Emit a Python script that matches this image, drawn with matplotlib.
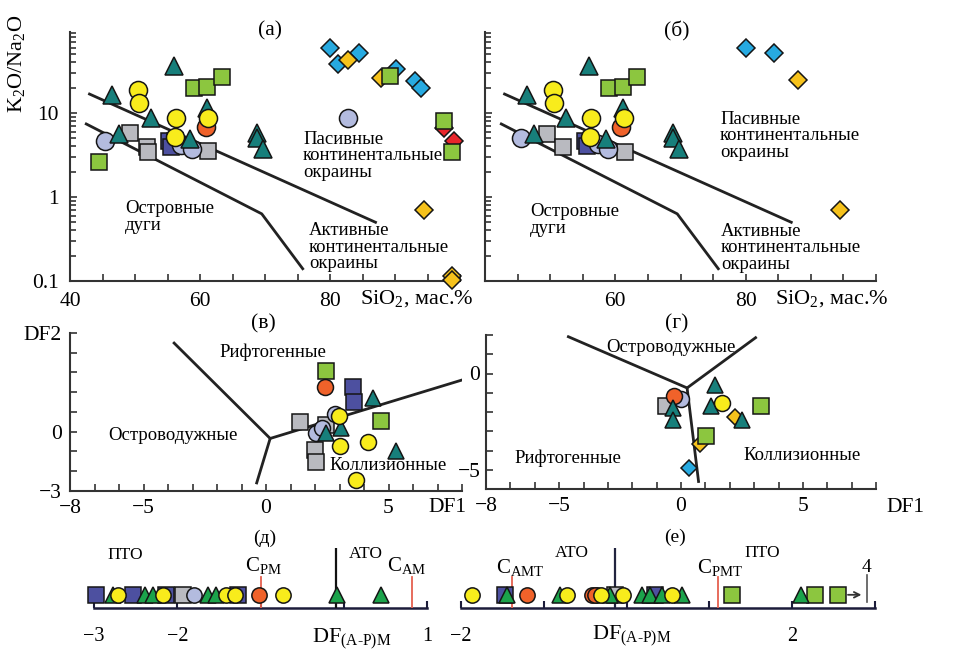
import numpy as np
import matplotlib
matplotlib.use('Agg')
import matplotlib.pyplot as plt
from matplotlib.ticker import FixedLocator, NullFormatter, LogLocator

plt.rcParams['font.family'] = ['Liberation Serif', 'DejaVu Serif']
plt.rcParams['mathtext.fontset'] = 'custom'
plt.rcParams['mathtext.rm'] = 'Liberation Serif'
plt.rcParams['mathtext.it'] = 'Liberation Serif:italic'
plt.rcParams['mathtext.bf'] = 'Liberation Serif:bold'

W, H = 956, 672

# ---------------- данные ----------------
# (а) SiO2 - K2O/Na2O
a_tri_x = [56.0, 46.5, 52.5, 61.1, 47.5, 58.5, 68.8, 68.8, 69.7]
a_tri_y = [36, 16.2, 8.7, 11.6, 5.6, 4.9, 5.8, 5.1, 3.7]
a_yel_x = [50.5, 50.6, 56.3, 61.3, 56.1]
a_yel_y = [18.6, 13.3, 8.8, 8.8, 5.2]
a_org_x = [60.9]
a_org_y = [6.8]
a_lav_x = [45.4, 57.0, 58.8, 82.8]
a_lav_y = [4.7, 4.2, 3.7, 8.8]
a_gry_x = [49.2, 51.8, 52.0, 61.3]
a_gry_y = [5.7, 3.9, 3.4, 3.5]
a_blu_x = [55.2, 56.2, 55.6]
a_blu_y = [4.7, 4.6, 3.9]
a_grn_x = [44.4, 59.0, 61.1, 63.4, 89.2, 97.5, 98.8]
a_grn_y = [2.6, 19.7, 20.4, 26.8, 27.6, 8.0, 3.4]
a_cyn_x = [80.0, 81.2, 84.4, 90.1, 93.0, 94.0]
a_cyn_y = [60, 38.6, 52, 33, 24, 19.7]
a_gld_x = [82.8, 87.8, 94.5, 98.8, 98.8]
a_gld_y = [42.4, 26.3, 0.70, 0.115, 0.102]
a_red_x = [97.5, 99.0]
a_red_y = [6.7, 4.6]

# (б)
b_lav_x = [45.6, 57.4, 58.8]
b_lav_y = [5.0, 4.3, 3.7]
b_gry_x = [49.5, 51.9, 61.5]
b_gry_y = [5.6, 3.9, 3.4]
b_blu_x = [55.3, 55.6]
b_blu_y = [4.6, 4.05]
b_grn_x = [59.0, 61.1, 63.4]
b_grn_y = [19.7, 20.4, 26.8]
b_cyn_x = [80.0, 84.4]
b_cyn_y = [60, 52]
b_gld_x = [88.0, 94.5]
b_gld_y = [25, 0.70]

# границы полей (а), (б)
ab_upper_x = [43.0, 87.0]
ab_upper_y = [16.8, 0.50]
ab_lower_x = [42.5, 69.5, 75.8]
ab_lower_y = [7.4, 0.63, 0.14]

# (в) DF1 - DF2
c_grn_x = [2.44, 4.69]
c_grn_y = [3.08, 0.56]
c_org_x = [2.40]
c_org_y = [2.25]
c_blu_x = [3.56, 3.58]
c_blu_y = [2.25, 1.52]
c_tri_x = [4.35, 2.46, 3.08, 5.31]
c_tri_y = [1.69, -0.08, 0.17, -0.96]
c_yel_x = [2.98, 3.0, 4.17, 3.67]
c_yel_y = [0.80, -0.71, -0.51, -2.45]
c_lav_x = [2.81, 2.03, 2.3]
c_lav_y = [0.90, -0.08, 0.2]
c_gry_x = [1.40, 2.46, 1.99, 2.03]
c_gry_y = [0.51, 0.34, -0.93, -1.52]
c_line1_x = [-3.75, 0.17, 8.0]
c_line1_y = [4.49, -0.34, 2.62]
c_line2_x = [0.17, -0.38]
c_line2_y = [-0.34, -2.59]

# (г)
d_org_x = [-0.28]
d_org_y = [-1.18]
d_lav_x = [0.0]
d_lav_y = [-1.35]
d_gry_x = [-0.62]
d_gry_y = [-1.70]
d_tri_x = [-0.34, -0.34, 1.41, 1.23, 2.51]
d_tri_y = [-1.77, -2.40, -0.62, -1.70, -2.40]
d_yel_x = [1.69]
d_yel_y = [-1.53]
d_gld_x = [2.23, 0.78]
d_gld_y = [-2.26, -3.65]
d_grn_x = [3.29, 1.03]
d_grn_y = [-1.67, -3.26]
d_cyn_x = [0.34]
d_cyn_y = [-4.91]
d_line1_x = [-4.62, 0.25, 3.06]
d_line1_y = [1.91, -0.75, 1.86]
d_line2_x = [0.25, 0.72]
d_line2_y = [-0.75, -5.61]

# (д) DF(A-P)M
e_blu = [-2.97, -2.53, -2.13, -1.27]
e_gry = [-1.93]
e_lav = [-1.80]
e_org = [-1.02]
e_yel = [-2.71, -2.17, -1.41, -1.31, -0.73]
e_tri = [-2.77, -2.39, -2.29, -1.63, -1.53, -0.08, 0.45]
e_black = -0.09
e_cpm = -1.0
e_cam = 0.82

# (е)
f_blu = [-1.47, 0.34]
f_gry = [-0.14]
f_grn = [1.27, 2.27, 2.55]
f_org = [-1.20, -0.42, -0.38]
f_lav = [-0.36]
f_yel = [-1.87, -0.72, -0.31, -0.04, 0.55]
f_tri = [-1.45, -0.80, -0.20, 0.18, 0.28, 0.43, 0.67, 2.11]
f_black = -0.14
f_camt = -1.38
f_cpmt = 1.10

# ---------------- стиль ----------------
sty = {
    'cyn': ('D', '#27aae1'),
    'gld': ('D', '#f6c21c'),
    'red': ('D', '#e8262b'),
    'blu': ('s', '#4d50a0'),
    'gry': ('s', '#b9bac0'),
    'grn': ('s', '#8cc63f'),
    'lav': ('o', '#b3bbdf'),
    'org': ('o', '#f0622a'),
    'tri': ('^', '#177f7b'),
    'yel': ('o', '#f8ec1c'),
}
order = ['cyn', 'gld', 'red', 'blu', 'gry', 'grn', 'lav', 'org', 'tri', 'yel']


def box(l, t, r, b):
    return [l / W, 1 - b / H, (r - l) / W, (b - t) / H]


def P(x, y):
    return x / W, 1 - y / H


def draw_points(ax, data, sizes, tri_color=None):
    for z, k in enumerate(order):
        if k not in data:
            continue
        xs, ys = data[k]
        m, c = sty[k]
        if k == 'tri' and tri_color:
            c = tri_color
        ax.plot(xs, ys, ls='none', marker=m, ms=sizes[m], mfc=c, mec='#151515',
                mew=1.1, clip_on=False, zorder=5 + z)


def style_axes(ax):
    for s in ['top', 'right']:
        ax.spines[s].set_visible(False)
    for s in ['left', 'bottom']:
        ax.spines[s].set_color('#333333')
        ax.spines[s].set_linewidth(1.5)
    ax.tick_params(which='both', direction='in', color='#333333', width=1.2, labelsize=15.5)
    ax.tick_params(which='major', length=5)
    ax.tick_params(which='minor', length=4)
    ax.set_facecolor('none')


fig = plt.figure(figsize=(W / 100, H / 100), dpi=100)

# ---------------- (а) и (б) ----------------
size_ab = {'o': 13, 's': 11.5, '^': 13, 'D': 8.8}
panel_a = {'tri': (a_tri_x, a_tri_y), 'yel': (a_yel_x, a_yel_y), 'org': (a_org_x, a_org_y),
           'lav': (a_lav_x, a_lav_y), 'gry': (a_gry_x, a_gry_y), 'blu': (a_blu_x, a_blu_y),
           'grn': (a_grn_x, a_grn_y), 'cyn': (a_cyn_x, a_cyn_y), 'gld': (a_gld_x, a_gld_y),
           'red': (a_red_x, a_red_y)}
panel_b = {'tri': (a_tri_x, a_tri_y), 'yel': (a_yel_x, a_yel_y), 'org': (a_org_x, a_org_y),
           'lav': (b_lav_x, b_lav_y), 'gry': (b_gry_x, b_gry_y), 'blu': (b_blu_x, b_blu_y),
           'grn': (b_grn_x, b_grn_y), 'cyn': (b_cyn_x, b_cyn_y), 'gld': (b_gld_x, b_gld_y)}

for pos, data, xlabs, ylabs in [(box(70, 32, 460, 281), panel_a, ['40', '', '', '', '60', '', '', '', '80', '', '', '', ''], True),
                                (box(485, 32, 876, 281), panel_b, ['', '', '', '', '60', '', '', '', '80', '', '', '', ''], False)]:
    ax = fig.add_axes(pos)
    style_axes(ax)
    ax.set_yscale('log')
    ax.set_xlim(40, 100)
    ax.set_ylim(0.1, 92)
    ax.xaxis.set_major_locator(FixedLocator(np.arange(40, 101, 5)))
    ax.set_xticklabels(xlabs)
    ax.yaxis.set_major_locator(FixedLocator([0.1, 1, 10]))
    ax.yaxis.set_minor_locator(LogLocator(base=10, subs=np.arange(2, 10)))
    ax.yaxis.set_minor_formatter(NullFormatter())
    if ylabs:
        ax.set_yticklabels(['0.1', '1', '10'])
    else:
        ax.set_yticklabels([])
    ax.tick_params(axis='x', pad=8)
    ax.tick_params(axis='y', pad=8)
    ax.plot(ab_upper_x, ab_upper_y, color='#222222', lw=2.0, zorder=3)
    ax.plot(ab_lower_x, ab_lower_y, color='#222222', lw=2.0, zorder=3)
    draw_points(ax, data, size_ab)

fs_reg = 13.5
fig.text(*P(270, 31), '(а)', fontsize=15.5, ha='center', va='center')
fig.text(*P(677, 31), '(б)', fontsize=15.5, ha='center', va='center')
fig.text(*P(17, 64), r'K$_2$O/Na$_2$O', fontsize=16, rotation=90, ha='center', va='center')
fig.text(*P(473, 299), r'SiO$_2$, мас.%', fontsize=16, ha='right', va='center')
fig.text(*P(888, 299), r'SiO$_2$, мас.%', fontsize=16, ha='right', va='center')
for x0, y0, txt in [(303, 156, 'Пасивные\nконтинентальные\nокраины'), (125, 217, 'Островные\nдуги'),
                    (309, 247, 'Активные\nконтинентальные\nокраины'),
                    (720, 136, 'Пасивные\nконтинентальные\nокраины'), (530, 220, 'Островные\nдуги'),
                    (721, 248, 'Активные\nконтинентальные\nокраины')]:
    fig.text(*P(x0, y0), txt, fontsize=fs_reg, ha='left', va='center', linespacing=0.95)

# ---------------- (в) и (г) ----------------
size_cd = {'o': 11.5, 's': 11, '^': 11.5, 'D': 8}
panel_c = {'grn': (c_grn_x, c_grn_y), 'org': (c_org_x, c_org_y), 'blu': (c_blu_x, c_blu_y),
           'tri': (c_tri_x, c_tri_y), 'yel': (c_yel_x, c_yel_y), 'lav': (c_lav_x, c_lav_y),
           'gry': (c_gry_x, c_gry_y)}
panel_d = {'org': (d_org_x, d_org_y), 'lav': (d_lav_x, d_lav_y), 'gry': (d_gry_x, d_gry_y),
           'tri': (d_tri_x, d_tri_y), 'yel': (d_yel_x, d_yel_y), 'gld': (d_gld_x, d_gld_y),
           'grn': (d_grn_x, d_grn_y), 'cyn': (d_cyn_x, d_cyn_y)}

axc = fig.add_axes(box(70, 333, 462, 491))
style_axes(axc)
axc.set_xlim(-8, 8)
axc.set_ylim(-3, 5)
axc.set_xticks(np.arange(-8, 9, 1))
axc.set_xticklabels(['−8', '', '', '−5', '', '', '', '', '0', '', '', '', '', '5', '', '', ''])
axc.set_yticks(np.arange(-3, 6, 1))
axc.set_yticklabels(['−3', '', '', '0', '', '', '', '', 'DF2'])
axc.tick_params(axis='x', pad=6)
axc.tick_params(axis='y', pad=6)
axc.plot(c_line1_x, c_line1_y, color='#222222', lw=2.0, zorder=3)
axc.plot(c_line2_x, c_line2_y, color='#222222', lw=2.0, zorder=3)
draw_points(axc, panel_c, size_cd)

axd = fig.add_axes(box(486, 335, 876, 489))
style_axes(axd)
axd.set_xlim(-8, 8)
axd.set_ylim(-6, 2)
axd.set_xticks(np.arange(-8, 9, 1))
axd.set_xticklabels(['−8', '', '', '−5', '', '', '', '', '0', '', '', '', '', '5', '', '', ''])
axd.set_yticks(np.arange(-6, 3, 1))
axd.set_yticklabels(['', '−5', '', '', '', '', '0', '', ''])
axd.tick_params(axis='x', pad=6)
axd.tick_params(axis='y', pad=4)
axd.plot(d_line1_x, d_line1_y, color='#222222', lw=2.0, zorder=3)
axd.plot(d_line2_x, d_line2_y, color='#222222', lw=2.0, zorder=3)
draw_points(axd, panel_d, size_cd)

fig.text(*P(263, 324), '(в)', fontsize=15.5, ha='center', va='center')
fig.text(*P(677, 324), '(г)', fontsize=15.5, ha='center', va='center')
fig.text(*P(447, 507), 'DF1', fontsize=15.5, ha='center', va='center')
fig.text(*P(905, 507), 'DF1', fontsize=15.5, ha='center', va='center')
for x0, y0, txt in [(273, 352, 'Рифтогенные'), (173, 436, 'Островодужные'), (388, 465, 'Коллизионные'),
                    (671, 347, 'Островодужные'), (568, 458, 'Рифтогенные'), (802, 456, 'Коллизионные')]:
    fig.text(*P(x0, y0), txt, fontsize=fs_reg, ha='center', va='center')

# ---------------- (д) и (е) ----------------
size_ef = {'o': 11, 's': 11, '^': 12, 'D': 8}
my = 0.22
panel_e = {'blu': e_blu, 'gry': e_gry, 'lav': e_lav, 'org': e_org, 'yel': e_yel, 'tri': e_tri}
panel_f = {'blu': f_blu, 'gry': f_gry, 'grn': f_grn, 'org': f_org, 'lav': f_lav, 'yel': f_yel, 'tri': f_tri}


def strip_axes(ax, lo, hi, labels):
    ax.set_xlim(lo, hi)
    ax.set_ylim(0, 1)
    for s in ['top', 'right', 'left']:
        ax.spines[s].set_visible(False)
    ax.spines['bottom'].set_color('#1c1c3a')
    ax.spines['bottom'].set_linewidth(1.8)
    ax.set_yticks([])
    ax.set_xticks(np.arange(lo, hi + 1, 1))
    ax.set_xticklabels(labels)
    ax.tick_params(axis='x', direction='in', length=5, width=1.5, color='#1c1c3a', labelsize=14.5, pad=14)
    ax.set_facecolor('none')


axe = fig.add_axes(box(94, 548, 427, 608))
strip_axes(axe, -3, 1, ['−3', '−2', '', '', '1'])
axe.axvline(e_black, 0, 1, color='#111111', lw=1.6, zorder=3)
axe.axvline(e_cpm, 0, 0.52, color='#e5604f', lw=1.3, zorder=3)
axe.axvline(e_cam, 0, 0.52, color='#e5604f', lw=1.3, zorder=3)
draw_points(axe, {k: (v, [my] * len(v)) for k, v in panel_e.items()}, size_ef, tri_color='#1ba34b')

axf = fig.add_axes(box(461, 548, 875, 608))
strip_axes(axf, -2, 3, ['−2', '', '', '', '2', ''])
axf.axvline(f_black, 0, 1, color='#22243f', lw=1.6, zorder=3)
axf.axvline(f_camt, 0, 0.52, color='#e5604f', lw=1.3, zorder=3)
axf.axvline(f_cpmt, 0, 0.52, color='#e5604f', lw=1.3, zorder=3)
axf.axvline(2.90, 0.1, 0.55, color='#555555', lw=1.2, zorder=3)
axf.annotate('', xy=(2.87, my), xytext=(2.64, my),
             arrowprops=dict(arrowstyle='->', color='#333333', lw=1.3), zorder=4)
draw_points(axf, {k: (v, [my] * len(v)) for k, v in panel_f.items()}, size_ef, tri_color='#1ba34b')

fs_c = 15
fig.text(*P(265, 538), '(д)', fontsize=14, ha='center', va='center')
fig.text(*P(125, 555), 'ПТО', fontsize=12.5, ha='center', va='center')
fig.text(*P(366, 554), 'АТО', fontsize=12.5, ha='center', va='center')
fig.text(*P(263, 565), r'C$_{\mathrm{PM}}$', fontsize=fs_c, ha='center', va='center')
fig.text(*P(407, 565), r'C$_{\mathrm{AM}}$', fontsize=fs_c, ha='center', va='center')
fig.text(*P(352, 639), r'DF$_{\mathrm{(A‐P)M}}$', fontsize=16, ha='center', va='center')

fig.text(*P(675, 537), '(е)', fontsize=14, ha='center', va='center')
fig.text(*P(572, 553), 'АТО', fontsize=12.5, ha='center', va='center')
fig.text(*P(762, 553), 'ПТО', fontsize=12.5, ha='center', va='center')
fig.text(*P(520, 568), r'C$_{\mathrm{AMT}}$', fontsize=fs_c, ha='center', va='center')
fig.text(*P(720, 567), r'C$_{\mathrm{PMT}}$', fontsize=fs_c, ha='center', va='center')
fig.text(*P(632, 636), r'DF$_{\mathrm{(A‐P)M}}$', fontsize=16, ha='center', va='center')
fig.text(*P(867, 568), '4', fontsize=14, ha='center', va='center')

fig.savefig('out.png', dpi=100)
